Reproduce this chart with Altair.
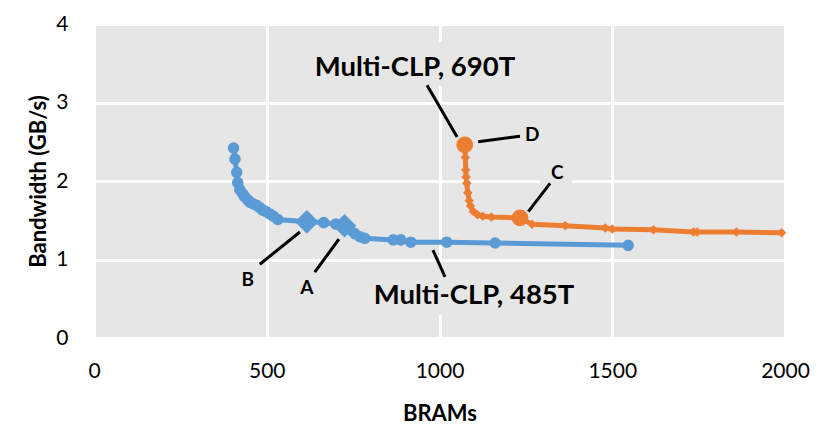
import altair as alt
import pandas as pd

# ---- data ----
blue_x = [404, 408, 413, 416, 422, 430, 436, 445, 451, 460, 471, 480, 488, 498, 509, 520, 532,
          616, 665, 700, 725, 740, 755, 770, 784, 866, 888, 917, 1021, 1161, 1546]
blue_y = [2.42, 2.28, 2.11, 1.98, 1.89, 1.84, 1.80, 1.76, 1.73, 1.71, 1.69, 1.66, 1.63, 1.61, 1.58, 1.55, 1.51,
          1.48, 1.47, 1.45, 1.43, 1.38, 1.33, 1.29, 1.27, 1.25, 1.25, 1.22, 1.22, 1.21, 1.18]
blue_tag = [""] * 17 + ["B", "", "", "A"] + [""] * 10

orange_x = [1073, 1075, 1076, 1077, 1079, 1082, 1086, 1090, 1098, 1110, 1125, 1150,
            1233, 1268, 1364, 1480, 1500, 1619, 1735, 1746, 1859, 1990]
orange_y = [2.46, 2.30, 2.14, 2.05, 1.97, 1.85, 1.75, 1.68, 1.61, 1.57, 1.55, 1.54,
            1.53, 1.45, 1.43, 1.40, 1.39, 1.38, 1.35, 1.35, 1.35, 1.34]
orange_tag = ["D"] + [""] * 11 + ["C"] + [""] * 9

# annotations: text and leader lines (data coordinates)
label_text = ["Multi-CLP, 690T", "D", "C", "Multi-CLP, 485T", "B", "A"]
label_x = [929, 1268, 1341, 1100, 445, 616]
label_y = [3.44, 2.59, 2.10, 0.54, 0.74, 0.64]
label_big = [True, False, False, True, False, False]

leader_x1 = [964, 1112, 1257, 981, 596, 709]
leader_y1 = [3.22, 2.50, 1.61, 1.12, 1.35, 1.26]
leader_x2 = [1051, 1233, 1320, 1016, 480, 639]
leader_y2 = [2.56, 2.57, 1.97, 0.78, 0.94, 0.84]

# text boxes (filled like the plot background, hiding gridlines)
box_x1 = [610, 1291, 770]
box_x2 = [1248, 1384, 1466]
box_y1 = [3.21, 1.91, 0.30]
box_y2 = [3.77, 2.27, 0.97]

x_ticks = [0, 500, 1000, 1500, 2000]
y_ticks = [0, 1, 2, 3, 4]

BLUE = "#5B9BD5"
ORANGE = "#ED7D31"
BG = "#E6E6E6"
FONT = "Lato"

blue = pd.DataFrame({"x": blue_x, "y": blue_y, "tag": blue_tag})
orange = pd.DataFrame({"x": orange_x, "y": orange_y, "tag": orange_tag})
labels = pd.DataFrame({"text": label_text, "x": label_x, "y": label_y, "big": label_big})
leaders = pd.DataFrame({"x": leader_x1, "y": leader_y1, "x2": leader_x2, "y2": leader_y2})
boxes = pd.DataFrame({"x": box_x1, "x2": box_x2, "y": box_y1, "y2": box_y2})

xs = alt.Scale(domain=[0, 2000], nice=False)
ys = alt.Scale(domain=[0, 4], nice=False)

xax = alt.Axis(values=x_ticks, format="d", title="BRAMs", grid=True, gridColor="white", gridWidth=3,
               domain=False, ticks=False, labelFont=FONT, labelFontSize=21, labelColor="black",
               labelPadding=22, titleFont=FONT, titleFontSize=22, titleFontWeight="bold",
               titleColor="black", titleY=75, titleBaseline="middle", labelFlush=False)
yax = alt.Axis(values=y_ticks, format="d", title="Bandwidth (GB/s)", grid=True, gridColor="white", gridWidth=3,
               domain=False, ticks=False, labelFont=FONT, labelFontSize=21, labelColor="black",
               labelPadding=26, titleFont=FONT, titleFontSize=22, titleFontWeight="bold",
               titleColor="black", titleX=-56, titleY=157, titleAngle=270,
               titleBaseline="middle", titleAlign="center", labelFlush=False)

X = alt.X("x:Q", scale=xs, axis=xax)
Y = alt.Y("y:Q", scale=ys, axis=yax)

base_blue = alt.Chart(blue)
base_orange = alt.Chart(orange)

box_layer = alt.Chart(boxes).mark_rect(color=BG).encode(
    x=alt.X("x:Q", scale=xs), x2="x2:Q", y=alt.Y("y:Q", scale=ys), y2="y2:Q")

blue_line = base_blue.mark_line(color=BLUE, strokeWidth=5).encode(x=X, y=Y, order=alt.Order("x:Q"))
blue_pts = base_blue.transform_filter("datum.tag == ''").mark_point(
    shape="circle", filled=True, color=BLUE, size=135, opacity=1).encode(x="x:Q", y="y:Q")
blue_hl = base_blue.transform_filter("datum.tag != ''").mark_point(
    shape="diamond", filled=True, color=BLUE, size=560, opacity=1).encode(x="x:Q", y="y:Q")

orange_line = base_orange.mark_line(color=ORANGE, strokeWidth=5).encode(x="x:Q", y="y:Q", order=alt.Order("x:Q"))
orange_pts = base_orange.transform_filter("datum.tag == ''").mark_point(
    shape="diamond", filled=True, color=ORANGE, size=90, opacity=1).encode(x="x:Q", y="y:Q")
orange_hl = base_orange.transform_filter("datum.tag != ''").mark_point(
    shape="circle", filled=True, color=ORANGE, size=280, opacity=1).encode(x="x:Q", y="y:Q")

leader_layer = alt.Chart(leaders).mark_rule(color="black", strokeWidth=3).encode(
    x="x:Q", y="y:Q", x2="x2:Q", y2="y2:Q")

big_text = alt.Chart(labels).transform_filter("datum.big").mark_text(
    font=FONT, fontSize=27.5, fontWeight="bold", color="black", baseline="middle", align="center").encode(
    x="x:Q", y="y:Q", text="text:N")
small_text = alt.Chart(labels).transform_filter("!datum.big").mark_text(
    font=FONT, fontSize=19, fontWeight="bold", color="black", baseline="middle", align="center").encode(
    x="x:Q", y="y:Q", text="text:N")

chart = alt.layer(
    blue_line, box_layer, blue_pts, blue_hl, orange_line, orange_pts, orange_hl,
    leader_layer, big_text, small_text
).properties(
    width=691, height=314,
    autosize=alt.AutoSizeParams(type="none"),
    padding={"left": 86, "top": 16, "right": 30, "bottom": 100},
).configure(background="white").configure_view(fill=BG, stroke=None)

chart.save("out.html", embed_options={"renderer": "svg", "actions": False})
